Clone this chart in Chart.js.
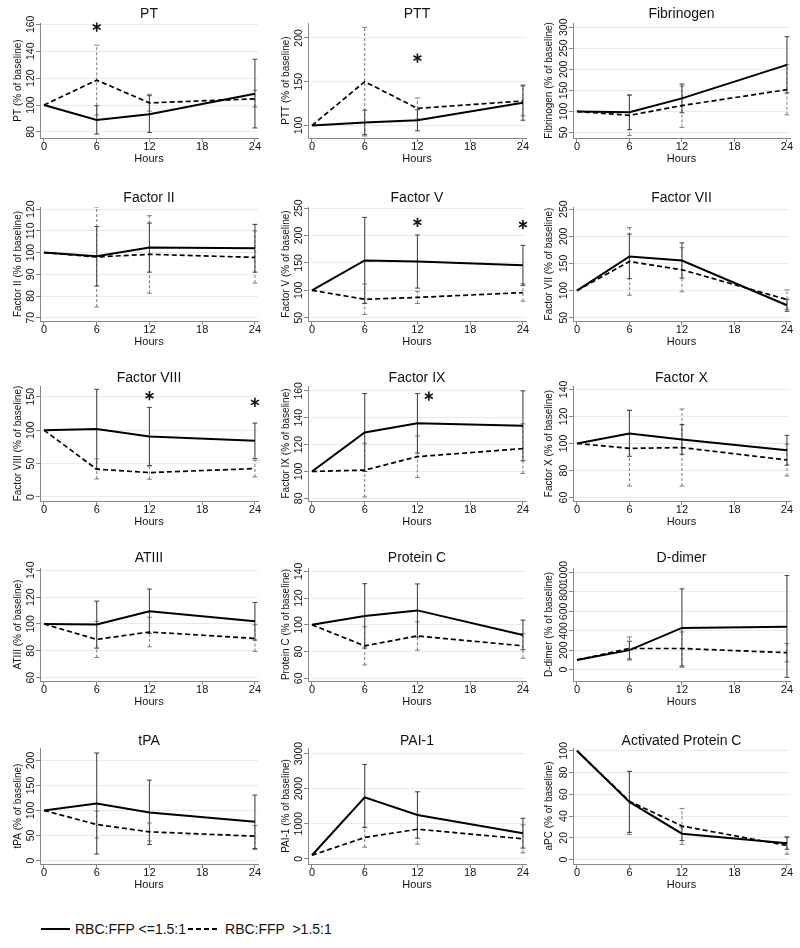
<!DOCTYPE html>
<html>
<head>
<meta charset="utf-8">
<script src="https://cdn.jsdelivr.net/npm/chart.js@4"></script>
<style>
  body{margin:0;background:#fff;width:800px;height:948px;position:relative;overflow:hidden;font-family:"Liberation Sans",Arial,sans-serif}
  canvas.panel{position:absolute}
  #legend{position:absolute;left:41px;top:920px;height:18px;display:flex;align-items:center;font-size:14px;color:#111;white-space:pre}
  #legend svg{display:block;margin-right:5px}
</style>
</head>
<body>
<div id="legend">
  <svg width="29" height="4"><line x1="0" y1="2" x2="29" y2="2" stroke="#000" stroke-width="2"/></svg><span>RBC:FFP &lt;=1.5:1</span>
  <svg width="32" height="4" style="margin-left:2px"><line x1="0" y1="2" x2="32" y2="2" stroke="#000" stroke-width="1.8" stroke-dasharray="5,3"/></svg><span>RBC:FFP  &gt;1.5:1</span>
</div>
<script>
// sampling times and x ticks
const hours = [0, 6, 12, 24];
const xTicks = [0, 6, 12, 18, 24];

const titles = ["PT","PTT","Fibrinogen","Factor II","Factor V","Factor VII","Factor VIII","Factor IX","Factor X",
  "ATIII","Protein C","D-dimer","tPA","PAI-1","Activated Protein C"];
const yNames = ["PT","PTT","Fibrinogen","Factor II","Factor V","Factor VII","Factor VIII","Factor IX","Factor X",
  "ATIII","Protein C","D-dimer","tPA","PAI-1","aPC"];

// RBC:FFP <=1.5:1 (solid)
const lowMean = [
  [100, 88.9, 93.2, 108.4], [100, 103.5, 106, 126], [100, 98, 131, 210.7],
  [100, 98.3, 102.3, 102], [100, 154.5, 152.7, 145.5], [100, 162.8, 155.5, 73],
  [100, 101.5, 90.5, 84], [100, 129, 135.8, 134], [100, 107.3, 103, 95],
  [100, 99.6, 109.5, 102], [100, 106.6, 110.8, 92.4], [100, 201, 429.5, 443],
  [100, 114, 96, 77.3], [100, 1750, 1249, 729], [100, 53, 23.8, 15.1]
];
const lowLo = [
  [null, 78.4, 79.6, 83], [null, 89.5, 94, 106], [null, 57, 97, 144],
  [null, 84.6, 91, 91], [null, 76, 104, 109], [null, 122, 123, 62],
  [null, 42, 47, 57.5], [null, 100, 113.6, 108], [null, 90.5, 92, 84],
  [null, 82, 93, 88], [null, 82.6, 90.8, 81.4], [null, 110, 27, -80],
  [null, 13, 32, 24], [null, 890, 587, 304], [null, 25, 17.5, 9.5]
];
const lowHi = [
  [null, 99.5, 107, 134], [null, 117.5, 118, 146], [null, 139, 165, 277.6],
  [null, 112, 113.6, 113], [null, 233, 201, 182], [null, 204, 188, 84],
  [null, 161, 134, 110.5], [null, 158, 158, 160], [null, 124.5, 114, 106],
  [null, 117, 126, 116], [null, 130.8, 130.6, 103.5], [null, 292, 832, 970],
  [null, 215, 160.7, 130.7], [null, 2690, 1911, 1154], [null, 81, 30, 20.7]
];

// RBC:FFP >1.5:1 (dashed)
const highMean = [
  [100, 118.5, 101.6, 104.6], [100, 150, 119.5, 128], [100, 90.8, 114, 151.7],
  [100, 98, 99.2, 97.8], [100, 83.6, 87, 95.8], [100, 153.7, 138.4, 83.5],
  [100, 41.5, 36.5, 42.5], [100, 101, 111, 117], [100, 96.4, 97, 87.8],
  [100, 88.5, 94, 89.2], [100, 84.3, 91.7, 84.3], [100, 218, 218, 174.5],
  [100, 72, 57.3, 48.7], [100, 606, 842, 568], [100, 53.7, 30.9, 13]
];
const highLo = [
  [null, 92.5, 95.5, 98.5], [null, 88, 107.5, 111], [null, 43, 62, 92],
  [null, 75, 81.3, 86], [null, 55.8, 76, 80], [null, 91.5, 98, 65.5],
  [null, 27, 26.5, 30], [null, 81, 95.5, 98.5], [null, 68.5, 68.5, 76],
  [null, 75, 83, 79.5], [null, 70, 81, 75], [null, 98, 40, 80],
  [null, 45, 39, 22], [null, 330, 416, 168], [null, 23, 14, 5]
];
const highHi = [
  [null, 144.5, 108, 111], [null, 212, 131.5, 145], [null, 139, 160, 211],
  [null, 121, 117, 110], [null, 111.5, 98, 112], [null, 216, 179, 101.5],
  [null, 57, 46.5, 55], [null, 121, 126.5, 135.5], [null, 124.5, 125.5, 99.6],
  [null, 102, 105, 99.5], [null, 98.6, 102.3, 93.5], [null, 336, 388, 270],
  [null, 99, 75, 70], [null, 900, 1260, 968], [null, 81, 47, 21]
];

// y axes
const yTicks = [
  [80,100,120,140,160], [100,150,200], [50,100,150,200,250,300],
  [70,80,90,100,110,120], [50,100,150,200,250], [50,100,150,200,250],
  [0,50,100,150], [80,100,120,140,160], [60,80,100,120,140],
  [60,80,100,120,140], [60,80,100,120,140], [0,200,400,600,800,1000],
  [0,50,100,150,200], [0,1000,2000,3000], [0,20,40,60,80,100]
];
const yMin = [75.5, 85.7, 37, 68.5, 44, 44, -6, 78, 57.5, 57.5, 58, -117, -7, -150, -4];
const yMax = [161, 217, 310, 121, 252, 254, 166, 163.6, 142.5, 141.7, 142.5, 1047, 225, 3160, 102.5];

// significance markers [hour, value]
const stars = [
  [[6, 158]], [[12, 177]], [],
  [], [[12, 224], [24, 220]], [],
  [[12, 151.5], [24, 141.5]], [[13.3, 156]], [],
  [], [], [],
  [], [], []
];

// page geometry
const colLeft = [0, 266, 533], colW = [266, 267, 267];
const plotL = [40, 308, 573], plotR = [258, 526, 790];
const yTitleX = [18.5, 20.5, 16.5];
const rowTop = [0, 186, 366, 546, 729], rowH = 170;
const plotT = [23, 207, 386, 568, 748], plotB = [138, 321, 501, 681, 864];
const titleY = [14, 198, 378, 558, 741];
const X_AXIS_H = 28;
const FONT = '"Liberation Sans", Arial, sans-serif';

const panelText = {
  id: 'panelText',
  afterDraw(chart, args, opts){
    const {ctx, chartArea, scales:{x, y}} = chart;
    ctx.save();
    ctx.fillStyle = '#111';
    ctx.font = '14px ' + FONT;
    ctx.textAlign = 'center';
    ctx.textBaseline = 'middle';
    ctx.fillText(opts.title, (chartArea.left + chartArea.right) / 2, opts.titleY);
    // rotated y tick labels
    ctx.font = '10.5px ' + FONT;
    y.ticks.forEach(t => {
      ctx.save();
      ctx.translate(chartArea.left - 9, y.getPixelForValue(t.value));
      ctx.rotate(-Math.PI / 2);
      ctx.fillText(String(t.value), 0, 0);
      ctx.restore();
    });
    // asterisks
    ctx.strokeStyle = '#111';
    ctx.lineWidth = 1.6;
    opts.stars.forEach(([hx, v]) => {
      const px = x.getPixelForValue(hx), py = y.getPixelForValue(v), r = 4.6;
      ctx.beginPath();
      [90, 30, 150].forEach(a => {
        const rad = a * Math.PI / 180;
        ctx.moveTo(px - r * Math.cos(rad), py - r * Math.sin(rad));
        ctx.lineTo(px + r * Math.cos(rad), py + r * Math.sin(rad));
      });
      ctx.stroke();
    });
    ctx.restore();
  }
};

function errPoints(lo, hi){
  const pts = [];
  hours.forEach((h, i) => {
    if (lo[i] == null) return;
    pts.push({x: h, y: lo[i]}, {x: h, y: hi[i]}, {x: h, y: null});
  });
  return pts;
}

titles.forEach((t, i) => {
  const r = Math.floor(i / 3), c = i % 3;
  const cv = document.createElement('canvas');
  cv.className = 'panel';
  cv.width = colW[c]; cv.height = rowH;
  cv.style.left = colLeft[c] + 'px';
  cv.style.top = rowTop[r] + 'px';
  document.body.appendChild(cv);

  const padLeft = yTitleX[c] - 6;
  const yWidth = plotL[c] - colLeft[c] - padLeft;
  const padTop = plotT[r] - rowTop[r];
  const padBottom = rowTop[r] + rowH - plotB[r] - X_AXIS_H;
  const padRight = colLeft[c] + colW[c] - plotR[c];

  new Chart(cv, {
    type: 'line',
    data: {
      datasets: [
        { data: hours.map((h, k) => ({x: h, y: lowMean[i][k]})), borderColor: '#000', borderWidth: 2,
          pointRadius: 0, tension: 0, order: 0 },
        { data: hours.map((h, k) => ({x: h, y: highMean[i][k]})), borderColor: '#000', borderWidth: 1.7,
          borderDash: [5, 3], pointRadius: 0, tension: 0, order: 0 },
        { data: errPoints(lowLo[i], lowHi[i]), borderColor: '#4a4a4a', borderWidth: 1.1, spanGaps: false,
          pointStyle: 'line', pointRadius: 2.4, pointBorderColor: '#4a4a4a', pointBorderWidth: 1.1, order: 1 },
        { data: errPoints(highLo[i], highHi[i]), borderColor: '#858585', borderWidth: 1.1, borderDash: [3, 2],
          spanGaps: false, pointStyle: 'line', pointRadius: 2.4, pointBorderColor: '#858585',
          pointBorderWidth: 1.1, order: 2 }
      ]
    },
    options: {
      responsive: false,
      animation: false,
      events: [],
      layout: { padding: { left: padLeft, right: padRight, top: padTop, bottom: padBottom } },
      plugins: {
        legend: { display: false },
        tooltip: { enabled: false },
        panelText: { title: t, titleY: titleY[r] - rowTop[r], stars: stars[i] }
      },
      scales: {
        x: {
          type: 'linear', min: -0.45, max: 24.35,
          afterBuildTicks: s => { s.ticks = xTicks.map(v => ({value: v})); },
          afterFit: s => { s.height = X_AXIS_H; },
          grid: { drawOnChartArea: false, tickLength: 4, tickColor: '#888' },
          border: { color: '#888' },
          ticks: { padding: -2, maxRotation: 0, color: '#111', font: { size: 11, family: FONT } },
          title: { display: true, text: 'Hours', padding: 0, color: '#111', font: { size: 11, family: FONT } }
        },
        y: {
          min: yMin[i], max: yMax[i],
          afterBuildTicks: s => { s.ticks = yTicks[i].map(v => ({value: v})); },
          afterFit: s => { s.width = yWidth; },
          grid: { color: '#e3ecef', tickLength: 4, tickColor: '#888' },
          border: { color: '#888' },
          ticks: { display: false },
          title: { display: true, text: yNames[i] + ' (% of baseline)', padding: 0, color: '#111',
                   font: { size: 10, family: FONT } }
        }
      }
    },
    plugins: [panelText]
  });
});
</script>
</body>
</html>
